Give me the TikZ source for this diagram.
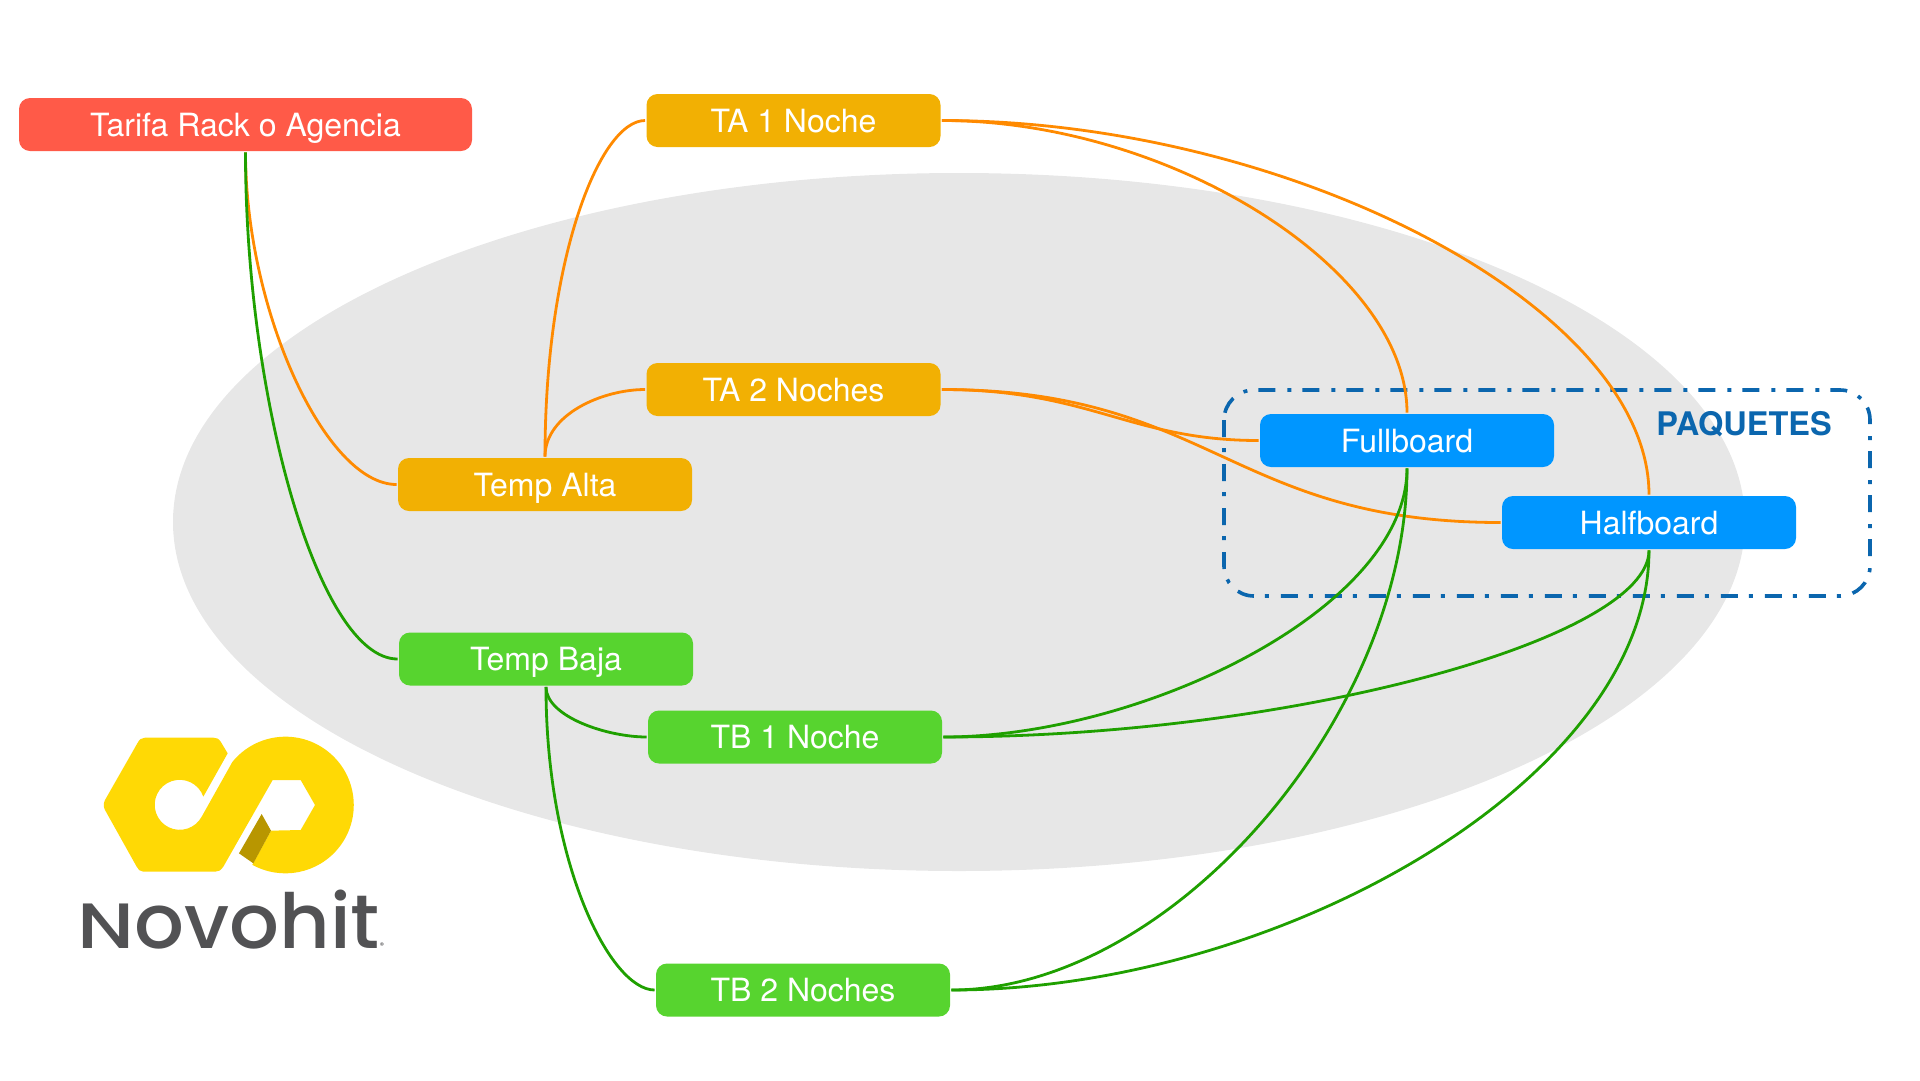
\documentclass[tikz,border=0pt]{standalone}
\usepackage{fontspec}
\setmainfont{TeX Gyre Heros}
\newfontfamily\logofont[FakeStretch=1.03]{Poppins Medium}
\usetikzlibrary{positioning}
\definecolor{rackred}{HTML}{FF5A48}
\definecolor{altaamber}{HTML}{F2B003}
\definecolor{bajagreen}{HTML}{57D42F}
\definecolor{boardblue}{HTML}{0096FF}
\definecolor{linkorange}{HTML}{FF8A00}
\definecolor{linkgreen}{HTML}{1FA000}
\definecolor{pakblue}{HTML}{0B66AE}
\definecolor{blobgray}{HTML}{E7E7E7}
\definecolor{logoyellow}{HTML}{FFD905}
\definecolor{logodark}{HTML}{B89600}
\definecolor{logogray}{HTML}{525254}

\begin{document}
\begin{tikzpicture}[x=1pt, y=-1pt, line width=2.8pt]
  \tikzstyle{tarifa} = [rectangle, rounded corners=11pt, minimum width=294pt, minimum height=53pt,
    text=white, align=center, text height=23pt, text depth=0pt, font=\fontsize{32}{36}\selectfont]
  \tikzstyle{orangelink} = [draw=linkorange]
  \tikzstyle{greenlink} = [draw=linkgreen]

  \useasboundingbox (0,0) rectangle (1920,1080);
  \fill[blobgray] (959,522) ellipse [x radius=786, y radius=349];

  \node[tarifa, fill=rackred, minimum width=453pt] (Rack) at (245.5,124.5) {Tarifa Rack o Agencia};
  \node[tarifa, fill=altaamber] (TA1) at (793.5,120.5) {TA 1 Noche};
  \node[tarifa, fill=altaamber] (TA2) at (793.5,389.5) {TA 2 Noches};
  \node[tarifa, fill=altaamber] (Alta) at (545,484.5) {Temp Alta};
  \node[tarifa, fill=bajagreen] (Baja) at (546,659) {Temp Baja};
  \node[tarifa, fill=bajagreen] (TB1) at (795,737) {TB 1 Noche};
  \node[tarifa, fill=bajagreen] (TB2) at (803,990) {TB 2 Noches};
  \node[tarifa, fill=boardblue] (Full) at (1407,440.5) {Fullboard};
  \node[tarifa, fill=boardblue] (Half) at (1649,522.5) {Halfboard};
  \node[text=pakblue, text height=23pt, text depth=0pt, font=\fontsize{32.5}{36}\selectfont\bfseries] (Paquetes) at (1744,424) {PAQUETES};

  \draw[pakblue, line width=3.6pt, rounded corners=30pt, dash pattern=on 17pt off 11pt on 4pt off 12pt]
    (1224,390) rectangle (1870,596);

  \path
    (Rack.south) edge[orangelink, out=-90, in=180, out looseness=1.1, in looseness=0.5] (Alta.west)
    (Rack.south) edge[greenlink, out=-90, in=180, out looseness=1.2, in looseness=0.38] (Baja.west)
    (Alta.north) edge[orangelink, out=90, in=180, out looseness=1.45, in looseness=0.33] (TA1.west)
    (Alta.north) edge[orangelink, out=90, in=180, looseness=0.9] (TA2.west)
    (TA1.east) edge[orangelink, out=0, in=90, out looseness=1.06, in looseness=0.67] (Full.north)
    (TA1.east) edge[orangelink, out=0, in=90, out looseness=1.115, in looseness=0.6] (Half.north)
    (TA2.east) edge[orangelink, out=0, in=180, out looseness=1.18, in looseness=1.02] (Full.west)
    (TA2.east) edge[orangelink, out=0, in=180, looseness=1.2] (Half.west)
    (Baja.south) edge[greenlink, out=-90, in=180, out looseness=0.68, in looseness=0.9] (TB1.west)
    (Baja.south) edge[greenlink, out=-90, in=180, out looseness=1.4, in looseness=0.35] (TB2.west)
    (TB1.east) edge[greenlink, out=0, in=-90, out looseness=0.95, in looseness=0.67] (Full.south)
    (TB1.east) edge[greenlink, out=0, in=-90, out looseness=1.22, in looseness=0.31] (Half.south)
    (TB2.east) edge[greenlink, out=0, in=-90, out looseness=0.81, in looseness=0.92] (Full.south)
    (TB2.east) edge[greenlink, out=0, in=-90, out looseness=1.02, in looseness=0.71] (Half.south);

  % logo
  \begin{scope}[shift={(60,710)}, scale=1/3]
    \fill[logoyellow]
      (503,130) -- (430,260) arc[start angle=-19, delta angle=-313, radius=75]
      -- (517,156) arc[start angle=-141, delta angle=260, radius=205]
      -- (633,362) -- (722,360) -- (765,285) -- (722,210) -- (638,210)
      -- (490,470) .. controls (482,482) and (475,485) .. (465,485)
      -- (250,485) .. controls (240,485) and (234,478) .. (230,470)
      -- (135,300) .. controls (130,290) and (130,280) .. (135,270)
      -- (232,100) .. controls (238,88) and (245,83) .. (255,83)
      -- (460,83) .. controls (470,83) and (476,86) .. (482,95) -- cycle;
    \fill[logodark] (605,312) -- (633,362) -- (580,460) -- (537,430) -- cycle;
  \end{scope}
  \node[text=logogray, inner sep=0pt, anchor=base west, font=\logofont\fontsize{76}{80}\selectfont] (Logo)
    at (76,948) {{\fontsize{64}{64}\selectfont\scalebox{1.2}[1]{N}}ovohit{\fontsize{8}{8}\selectfont ®}};
\end{tikzpicture}
\end{document}
